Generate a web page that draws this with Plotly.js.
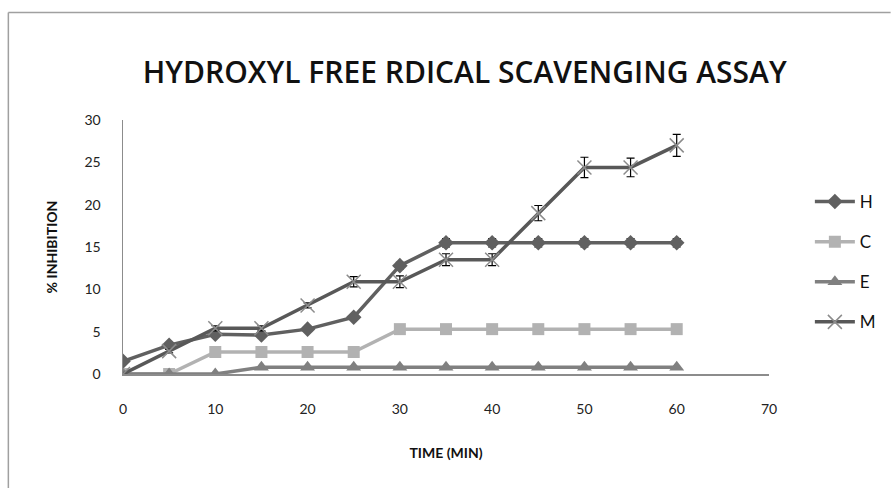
<!DOCTYPE html>
<html>
<head>
<meta charset="utf-8">
<script src="https://cdn.plot.ly/plotly-3.0.1.min.js"></script>
<style>html,body{margin:0;padding:0;background:#fff;}#chart{width:893px;height:488px;}</style>
</head>
<body>
<div id="chart"></div>
<script>
const time = [0, 5, 10, 15, 20, 25, 30, 35, 40, 45, 50, 55, 60];
const H = [1.5, 3.4, 4.7, 4.6, 5.3, 6.7, 12.8, 15.5, 15.5, 15.5, 15.5, 15.5, 15.5];
const C = [0, 0, 2.6, 2.6, 2.6, 2.6, 5.3, 5.3, 5.3, 5.3, 5.3, 5.3, 5.3];
const E = [0, 0, 0, 0.8, 0.8, 0.8, 0.8, 0.8, 0.8, 0.8, 0.8, 0.8, 0.8];
const M = [0, 2.7, 5.4, 5.4, 8.1, 10.9, 10.9, 13.5, 13.5, 19.0, 24.4, 24.4, 27.0];
const H_err = [0, 0, 0, 0, 0, 0, 0.4, 0.5, 0.5, 0.5, 0.5, 0.5, 0.5];
const M_err = [0, 0.2, 0.3, 0.3, 0.3, 0.6, 0.7, 0.7, 0.7, 0.9, 1.2, 1.1, 1.3];
const xTicks = [0, 10, 20, 30, 40, 50, 60, 70];
const yTicks = [0, 5, 10, 15, 20, 25, 30];

const FONT = 'Lato, "Open Sans", sans-serif';
const TFONT = '"Open Sans", Lato, sans-serif';
const errStyle = {type: 'data', visible: true, color: '#000', thickness: 1.2, width: 4};

const traces = [
  {name: 'H', x: time, y: H, mode: 'lines+markers', legendgroup: 'H',
   line: {color: '#606060', width: 3.5},
   marker: {symbol: 'diamond', size: 12, color: '#606060'},
   error_y: Object.assign({array: H_err}, errStyle)},
  {name: 'C', x: time, y: C, mode: 'lines+markers', legendgroup: 'C',
   line: {color: '#b2b2b2', width: 3.5},
   marker: {symbol: 'square', size: 12, color: '#b2b2b2'}},
  {name: 'E', x: time, y: E, mode: 'lines+markers', legendgroup: 'E',
   line: {color: '#808080', width: 3.5},
   marker: {symbol: 'triangle-up', size: 13, color: '#808080'}},
  {name: 'M', x: time, y: M, mode: 'lines+markers', legendgroup: 'M',
   line: {color: '#585858', width: 3.5},
   marker: {symbol: 'x-thin-open', size: 14, color: '#8c8c8c', line: {width: 1.5, color: '#8c8c8c'}},
   error_y: Object.assign({array: M_err}, errStyle)}
];

const l = 123, r = 122, t = 120, b = 114;
const pw = 893 - l - r, ph = 488 - t - b;
const layout = {
  width: 893, height: 488,
  margin: {l: l, r: r, t: t, b: b},
  paper_bgcolor: '#fff', plot_bgcolor: '#fff',
  font: {family: FONT, color: '#222', size: 14},
  title: {text: 'HYDROXYL FREE RDICAL SCAVENGING ASSAY', font: {family: TFONT, size: 30, color: '#111', weight: 600},
          x: 0.529, xanchor: 'center', xref: 'paper', y: 1 - 72/488, yanchor: 'middle', yref: 'container'},
  xaxis: {range: [0, 70], tickvals: xTicks, ticktext: xTicks.map(String), showgrid: false, zeroline: false,
          showline: true, linecolor: '#8c8c8c', linewidth: 1.5,
          ticks: 'outside', ticklen: 22, tickcolor: 'rgba(0,0,0,0)',
          tickfont: {family: FONT, size: 14, color: '#222'},
          title: {text: 'TIME (MIN)', font: {family: FONT, size: 14, color: '#111', weight: 'bold'}, standoff: 32}},
  yaxis: {range: [0, 30], tickvals: yTicks, ticktext: yTicks.map(String), showgrid: false, zeroline: false,
          showline: true, linecolor: '#8c8c8c', linewidth: 1.5,
          ticks: 'outside', ticklen: 18, tickcolor: 'rgba(0,0,0,0)',
          tickfont: {family: FONT, size: 14, color: '#222'},
          title: {text: '% INHIBITION', font: {family: FONT, size: 14, color: '#111', weight: 'bold'}, standoff: 23}},
  legend: {x: (812 - l) / pw, xanchor: 'left', y: (488 - b - 184) / ph, yanchor: 'top',
           font: {family: FONT, size: 17, color: '#111'}, tracegroupgap: 15, traceorder: 'grouped',
           bgcolor: 'rgba(0,0,0,0)', itemwidth: 40},
  showlegend: true,
  shapes: [
    {type: 'line', xref: 'paper', yref: 'paper', x0: (8 - l) / pw, x1: (893 - l) / pw, y0: (488 - b - 12.5) / ph, y1: (488 - b - 12.5) / ph,
     line: {color: '#a0a0a0', width: 1.5}},
    {type: 'line', xref: 'paper', yref: 'paper', x0: (8 - l) / pw, x1: (8 - l) / pw, y0: (488 - b - 12.5) / ph, y1: (488 - b - 500) / ph,
     line: {color: '#a0a0a0', width: 1.5}}
  ]
};

Plotly.newPlot('chart', traces, layout, {displayModeBar: false, staticPlot: true});
</script>
</body>
</html>
